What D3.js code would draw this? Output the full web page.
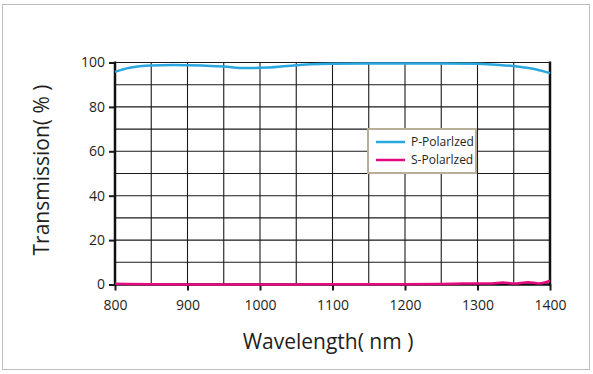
<!DOCTYPE html>
<html>
<head>
<meta charset="utf-8">
<script src="https://cdn.jsdelivr.net/npm/d3@7"></script>
<style>
  body { margin: 0; background: #fff; }
  text { font-family: "Liberation Sans Narrow", "Open Sans", "DejaVu Sans", sans-serif; fill: #231f20; }
</style>
</head>
<body>
<script>
'use strict';

// wavelength (nm) samples and transmission (%) per polarization
var pWave = [800, 820, 850, 880, 920, 950, 980, 1010, 1050, 1100, 1150, 1200, 1250, 1300, 1330, 1360, 1380, 1400];
var pTrans = [95.8, 97.6, 98.7, 98.9, 98.7, 98.2, 97.5, 97.7, 98.8, 99.4, 99.6, 99.6, 99.6, 99.4, 98.9, 98.0, 97.0, 95.2];

var sWave = [800, 850, 950, 1000, 1100, 1200, 1250, 1280, 1300, 1320, 1335, 1350, 1370, 1385, 1400];
var sTrans = [0.3, 0.1, 0.0, 0.0, 0.1, 0.1, 0.2, 0.4, 0.5, 0.5, 0.9, 0.4, 1.0, 0.5, 1.7];

var yTicks = [0, 20, 40, 60, 80, 100];
var xTicks = [800, 900, 1000, 1100, 1200, 1300, 1400];
var seriesNames = ["P-Polarlzed", "S-Polarlzed"];
var seriesColors = ["#2aa7df", "#e5097f"];

var width = 593, height = 374;
var plotL = 115, plotR = 550, plotT = 62.5, plotB = 284.5;

var svg = d3.select("body").append("svg")
    .attr("width", width)
    .attr("height", height);

// outer frame
svg.append("rect")
    .attr("x", 2.5).attr("y", 4.5)
    .attr("width", 587).attr("height", 365)
    .attr("fill", "none").attr("stroke", "#bdbdbd").attr("stroke-width", 1);

var x = d3.scaleLinear().domain([800, 1400]).range([plotL, plotR]);
var y = d3.scaleLinear().domain([0, 100]).range([plotB, plotT]);

// grid
svg.append("g").selectAll("line")
    .data(d3.range(850, 1400, 50))
    .enter().append("line")
    .attr("x1", function(d) { return x(d); }).attr("x2", function(d) { return x(d); })
    .attr("y1", plotT).attr("y2", plotB)
    .attr("stroke", "#1a1a1a").attr("stroke-width", 1.1);

svg.append("g").selectAll("line")
    .data(d3.range(10, 101, 10))
    .enter().append("line")
    .attr("x1", plotL).attr("x2", plotR)
    .attr("y1", function(d) { return y(d); }).attr("y2", function(d) { return y(d); })
    .attr("stroke", "#1a1a1a").attr("stroke-width", 1.1);

// axes
var xAxis = d3.axisBottom(x).tickValues(xTicks).tickSize(6).tickFormat(d3.format("d"));
var yAxis = d3.axisLeft(y).tickValues(yTicks).tickSize(6);

var gx = svg.append("g").attr("transform", "translate(0," + plotB + ")").call(xAxis);
var gy = svg.append("g").attr("transform", "translate(" + plotL + ",0)").call(yAxis);

[gx, gy].forEach(function(g) {
  g.select(".domain").remove();
  g.selectAll(".tick line").attr("stroke", "#1a1a1a").attr("stroke-width", 2);
  g.selectAll(".tick text").style("font-size", "14px").style("font-family", "'Open Sans', sans-serif");
});
gx.selectAll(".tick text").attr("dy", "1.2em");
gy.selectAll(".tick text").attr("x", -10);

// heavy frame lines
svg.append("line").attr("x1", plotL).attr("x2", plotL).attr("y1", plotT - 1).attr("y2", plotB + 1)
    .attr("stroke", "#111").attr("stroke-width", 2.5);
svg.append("line").attr("x1", plotR).attr("x2", plotR).attr("y1", plotT - 1).attr("y2", plotB + 1)
    .attr("stroke", "#111").attr("stroke-width", 2.5);
svg.append("line").attr("x1", plotL).attr("x2", plotR).attr("y1", plotB).attr("y2", plotB)
    .attr("stroke", "#111").attr("stroke-width", 2.5);

// curves
var line = d3.line()
    .x(function(d) { return x(d[0]); })
    .y(function(d) { return y(d[1]); })
    .curve(d3.curveMonotoneX);

svg.append("path")
    .datum(d3.zip(pWave, pTrans))
    .attr("d", line)
    .attr("fill", "none").attr("stroke", seriesColors[0]).attr("stroke-width", 2.5);

svg.append("path")
    .datum(d3.zip(sWave, sTrans))
    .attr("d", line)
    .attr("fill", "none").attr("stroke", seriesColors[1]).attr("stroke-width", 2.5);

// legend
var lg = svg.append("g").attr("transform", "translate(368,129)");
lg.append("rect")
    .attr("width", 108).attr("height", 44)
    .attr("fill", "#fff").attr("stroke", "#b9ae97").attr("stroke-width", 2);
seriesNames.forEach(function(name, i) {
  lg.append("line")
      .attr("x1", 8).attr("x2", 37)
      .attr("y1", 13 + i * 18).attr("y2", 13 + i * 18)
      .attr("stroke", seriesColors[i]).attr("stroke-width", 2.5);
  lg.append("text")
      .attr("x", 43).attr("y", 17 + i * 18)
      .style("font-size", "12px")
      .text(name);
});

// axis titles
svg.append("text")
    .attr("x", 328).attr("y", 349)
    .attr("text-anchor", "middle")
    .style("font-size", "21px").style("font-family", "'Open Sans', sans-serif")
    .text("Wavelength( nm )");

svg.append("text")
    .attr("transform", "translate(49,170) rotate(-90)")
    .attr("text-anchor", "middle")
    .style("font-size", "21px").style("font-family", "'Open Sans', sans-serif")
    .text("Transmission( % )");
</script>
</body>
</html>
